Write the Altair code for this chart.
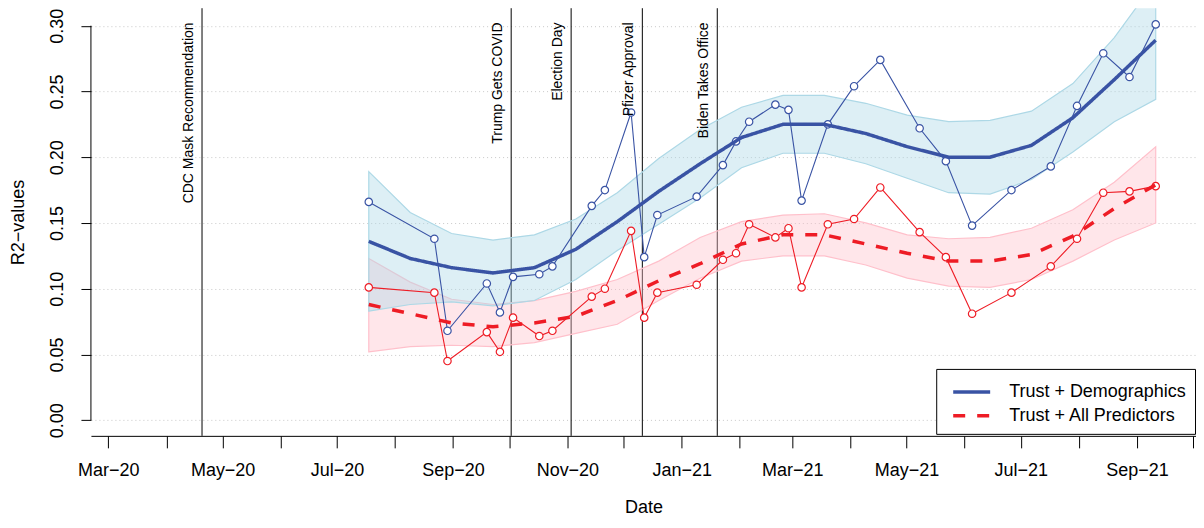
import altair as alt
import pandas as pd

# ---------------- data ----------------
point_dates = ["2020-07-18", "2020-08-22", "2020-08-29", "2020-09-19", "2020-09-26",
               "2020-10-03", "2020-10-17", "2020-10-24", "2020-11-14", "2020-11-21",
               "2020-12-05", "2020-12-12", "2020-12-19", "2021-01-09", "2021-01-23",
               "2021-01-30", "2021-02-06", "2021-02-20", "2021-02-27", "2021-03-06",
               "2021-03-20", "2021-04-03", "2021-04-17", "2021-05-08", "2021-05-22",
               "2021-06-05", "2021-06-26", "2021-07-17", "2021-07-31", "2021-08-14",
               "2021-08-28", "2021-09-11"]
blue_r2 = [0.166, 0.138, 0.068, 0.104, 0.082, 0.109, 0.111, 0.117, 0.163, 0.175,
           0.234, 0.124, 0.156, 0.170, 0.194, 0.212, 0.227, 0.240, 0.236, 0.167,
           0.225, 0.254, 0.274, 0.222, 0.197, 0.148, 0.175, 0.193, 0.239, 0.279,
           0.261, 0.301]
red_r2 = [0.101, 0.097, 0.045, 0.067, 0.052, 0.078, 0.064, 0.068, 0.094, 0.100,
          0.144, 0.078, 0.097, 0.103, 0.122, 0.127, 0.149, 0.139, 0.146, 0.101,
          0.149, 0.153, 0.177, 0.143, 0.124, 0.081, 0.097, 0.117, 0.138, 0.173,
          0.174, 0.178]

# smoothed fits on an even grid between first and last survey date
fit_start, fit_end, fit_n = "2020-07-18", "2021-09-11", 20
blue_fit = [0.136, 0.123, 0.116, 0.112, 0.116, 0.130, 0.151, 0.174, 0.195, 0.215,
            0.225, 0.225, 0.218, 0.208, 0.200, 0.200, 0.209, 0.230, 0.259, 0.289]
blue_lo = [0.083, 0.088, 0.090, 0.087, 0.091, 0.107, 0.129, 0.149, 0.169, 0.192,
           0.203, 0.203, 0.195, 0.184, 0.173, 0.172, 0.183, 0.204, 0.227, 0.244]
blue_hi = [0.189, 0.158, 0.142, 0.137, 0.141, 0.153, 0.173, 0.199, 0.221, 0.238,
           0.247, 0.247, 0.241, 0.232, 0.227, 0.228, 0.235, 0.256, 0.291, 0.334]
red_fit = [0.088, 0.081, 0.074, 0.071, 0.074, 0.079, 0.091, 0.106, 0.119, 0.134,
           0.141, 0.141, 0.134, 0.127, 0.121, 0.121, 0.126, 0.140, 0.161, 0.179]
red_lo = [0.052, 0.056, 0.057, 0.056, 0.059, 0.066, 0.073, 0.091, 0.108, 0.121,
          0.125, 0.125, 0.118, 0.108, 0.102, 0.101, 0.107, 0.121, 0.137, 0.150]
red_hi = [0.123, 0.105, 0.092, 0.088, 0.091, 0.098, 0.107, 0.121, 0.139, 0.151,
          0.156, 0.157, 0.150, 0.141, 0.138, 0.139, 0.146, 0.160, 0.181, 0.208]

event_dates = ["2020-04-20", "2020-10-02", "2020-11-03", "2020-12-11", "2021-01-20"]
event_labels = ["CDC Mask Recommendation", "Trump Gets COVID", "Election Day",
                "Pfizer Approval", "Biden Takes Office"]

series_names = ["Trust + Demographics", "Trust + All Predictors"]
month_ticks = pd.date_range("2020-03-01", "2021-10-01", freq="MS")
y_ticks = [0.0, 0.05, 0.10, 0.15, 0.20, 0.25, 0.30]

BLUE = "#3953a4"
RED = "#ee1c25"
LIGHTBLUE = "#add8e6"
PINK = "#ffc0cb"
FONT = "Liberation Sans"


def ms(s):
    return int(pd.Timestamp(s).value // 10**6)


# ---------------- tables ----------------
pts_blue = pd.DataFrame({"date": [ms(d) for d in point_dates], "r2": blue_r2})
pts_red = pd.DataFrame({"date": [ms(d) for d in point_dates], "r2": red_r2})
grid = [int(t.value // 10**6) for t in pd.date_range(fit_start, fit_end, periods=fit_n)]
fit_blue = pd.DataFrame({"date": grid, "fit": blue_fit, "lo": blue_lo, "hi": blue_hi,
                         "series": series_names[0]})
fit_red = pd.DataFrame({"date": grid, "fit": red_fit, "lo": red_lo, "hi": red_hi,
                        "series": series_names[1]})
fits = pd.concat([fit_blue, fit_red], ignore_index=True)
events = pd.DataFrame({"date": [ms(d) for d in event_dates], "label": event_labels})

# ---------------- scales / axes ----------------
x_scale = alt.Scale(type="utc", domain=[ms("2020-02-20T17:00:00"), ms("2021-10-02T12:00:00")])
y_scale = alt.Scale(domain=[-0.0119, 0.3133], nice=False, zero=False)

x_axis = alt.Axis(
    values=[int(t.value // 10**6) for t in month_ticks],
    labelExpr="utcmonth(datum.value) % 2 == 0 ? utcFormat(datum.value, '%b\u2212%y') : ''",
    labelOverlap=False, labelFlush=False, labelFontSize=18, labelColor="black",
    labelPadding=14, tickSize=12, tickColor="black", domainColor="black",
    grid=False, title="Date", titleFontSize=18, titleFontWeight="normal",
    titleColor="black", titleBaseline="middle", titleY=72,
)
y_axis = alt.Axis(
    values=y_ticks, format=".2f", labelAngle=270, labelAlign="center",
    labelBaseline="middle", labelPadding=23, labelFontSize=18, labelColor="black",
    tickSize=10, tickColor="black", domain=False,
    grid=True, gridDash=[1, 3], gridColor="#c8c8c8", gridWidth=1,
    title="R2\u2212values", titleFontSize=18, titleFontWeight="normal",
    titleColor="black", titleAngle=270, titleAlign="center", titleBaseline="middle",
    titleX=-72, titleY=214,
)


def X():
    return alt.X("date:T", scale=x_scale, axis=x_axis, title="Date")


def Y(field):
    return alt.Y(f"{field}:Q", scale=y_scale, axis=y_axis, title="R2\u2212values")


# ---------------- layers ----------------
rules = alt.Chart(events).mark_rule(color="black", strokeWidth=1).encode(x=X())

band_red = alt.Chart(fit_red).mark_area(
    fill=PINK, fillOpacity=0.4, stroke=PINK, strokeWidth=1.2, clip=True
).encode(x=X(), y=Y("lo"), y2="hi:Q")
band_blue = alt.Chart(fit_blue).mark_area(
    fill=LIGHTBLUE, fillOpacity=0.42, stroke=LIGHTBLUE, strokeWidth=1.2, clip=True
).encode(x=X(), y=Y("lo"), y2="hi:Q")

line_blue = alt.Chart(pts_blue).mark_line(color=BLUE, strokeWidth=1.1).encode(x=X(), y=Y("r2"))
line_red = alt.Chart(pts_red).mark_line(color=RED, strokeWidth=1.1).encode(x=X(), y=Y("r2"))

dot_blue = alt.Chart(pts_blue).mark_point(
    shape="circle", size=55, fill="white", fillOpacity=1, stroke=BLUE, strokeWidth=1.2, opacity=1
).encode(x=X(), y=Y("r2"))
dot_red = alt.Chart(pts_red).mark_point(
    shape="circle", size=55, fill="white", fillOpacity=1, stroke=RED, strokeWidth=1.2, opacity=1
).encode(x=X(), y=Y("r2"))

legend_kw = dict(
    orient="none", legendX=846, legendY=361, title=None,
    symbolType="M-0.5,0H2.583", symbolSize=576, symbolStrokeWidth=3.5,
    labelFontSize=18, labelColor="black", labelOffset=36, labelLimit=400,
    padding=9, rowPadding=1, strokeColor="black", fillColor="white",
)
smooth = alt.Chart(fits).mark_line(strokeWidth=3.5).encode(
    x=X(), y=Y("fit"),
    color=alt.Color("series:N", scale=alt.Scale(domain=series_names, range=[BLUE, RED]),
                    legend=alt.Legend(**legend_kw)),
    strokeDash=alt.StrokeDash("series:N",
                              scale=alt.Scale(domain=series_names, range=[[1, 0], [12, 12]]),
                              legend=alt.Legend(**legend_kw)),
)

labels = alt.Chart(events).mark_text(
    angle=270, align="right", baseline="middle", dy=-13, fontSize=14, color="black", font=FONT
).encode(x=X(), y=alt.datum(0.3025), text="label:N")

y_domain = alt.Chart(pd.DataFrame({"k": [0]})).mark_rule(color="black", strokeWidth=1).encode(
    x=alt.value(0), y=alt.datum(0.0), y2=alt.datum(0.30)
)

chart = alt.layer(
    rules, band_red, band_blue, line_red, line_blue, dot_red, dot_blue, smooth, labels, y_domain
).properties(
    width=1106, height=428,
    autosize=alt.AutoSizeParams(type="none"),
    padding={"left": 83, "top": 0, "right": 0, "bottom": 84},
).configure(font=FONT).configure_view(stroke=None)

chart.save("out.html", embed_options={"renderer": "svg", "actions": False})
